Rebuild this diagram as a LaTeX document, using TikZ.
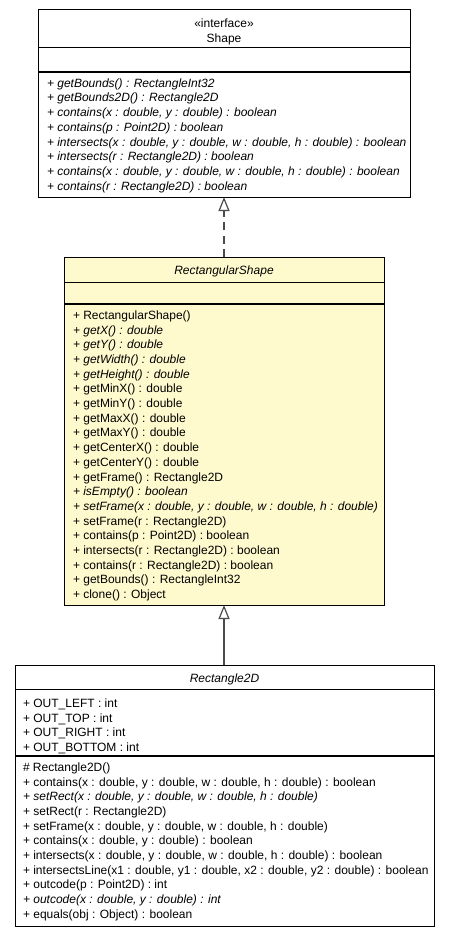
\documentclass[tikz,border=0pt]{standalone}
\usepackage{fontspec}
\setmainfont{Liberation Sans}
\usetikzlibrary{arrows.meta}
\definecolor{umlyellow}{RGB}{255,250,205}
\definecolor{conn}{RGB}{75,75,75}
\begin{document}
\begin{tikzpicture}[x=1pt,y=-1pt,
  box/.style={draw=black, line width=1pt, inner sep=0pt, outer sep=0pt},
  sep/.style={draw=black, line width=1pt},
  septhick/.style={draw=black, line width=1.8pt},
  txt/.style={inner sep=0pt, outer sep=0pt, anchor=base west, font=\fontsize{12}{14.7}\selectfont},
  ctxt/.style={inner sep=0pt, outer sep=0pt, anchor=base, font=\fontsize{12}{14.7}\selectfont},
  ital/.style={font=\fontsize{12}{14.7}\selectfont\itshape},
  upr/.style={},
  realize/.style={draw=conn, line width=1.6pt, dash pattern=on 8pt off 5.5pt,
    -{Triangle[open, length=14pt, width=11pt, line width=1.2pt, fill=white]}},
  inherit/.style={draw=conn, line width=1.6pt,
    -{Triangle[open, length=14pt, width=11pt, line width=1.2pt, fill=white]}}]
\useasboundingbox[fill=white] (0,0) rectangle (448,936);

% ---------------- Shape (interface) ----------------
\node[box, fill=white, minimum width=372pt, minimum height=187pt] (shapebox) at (224,103.5) {};
\draw[sep] (shapebox.west |- 0,48) -- (shapebox.east |- 0,48);
\draw[septhick] (shapebox.west |- 0,72) -- (shapebox.east |- 0,72);
\node[ctxt] (shapeStereo) at (224,27.3) {«interface»};
\node[ctxt] (shapeName) at (224,42.3) {Shape};
\foreach \st/\tx [count=\n from 0] in {
  ital/{+ getBounds() : RectangleInt32},
  ital/{+ getBounds2D() : Rectangle2D},
  ital/{+ contains(x : double, y : double) : boolean},
  ital/{+ contains(p : Point2D) : boolean},
  ital/{+ intersects(x : double, y : double, w : double, h : double) : boolean},
  ital/{+ intersects(r : Rectangle2D) : boolean},
  ital/{+ contains(x : double, y : double, w : double, h : double) : boolean},
  ital/{+ contains(r : Rectangle2D) : boolean}}
  \node[txt, \st] (shapeM\n) at (47, 87.3+14.7*\n) {\tx};

% ---------------- RectangularShape ----------------
\node[box, fill=umlyellow, minimum width=320pt, minimum height=348pt] (rsbox) at (224,431) {};
\draw[sep] (rsbox.west |- 0,282) -- (rsbox.east |- 0,282);
\draw[septhick] (rsbox.west |- 0,304) -- (rsbox.east |- 0,304);
\node[ctxt, ital] (rsName) at (224,274.3) {RectangularShape};
\foreach \st/\tx [count=\n from 0] in {
  upr/{+ RectangularShape()},
  ital/{+ getX() : double},
  ital/{+ getY() : double},
  ital/{+ getWidth() : double},
  ital/{+ getHeight() : double},
  upr/{+ getMinX() : double},
  upr/{+ getMinY() : double},
  upr/{+ getMaxX() : double},
  upr/{+ getMaxY() : double},
  upr/{+ getCenterX() : double},
  upr/{+ getCenterY() : double},
  upr/{+ getFrame() : Rectangle2D},
  ital/{+ isEmpty() : boolean},
  ital/{+ setFrame(x : double, y : double, w : double, h : double)},
  upr/{+ setFrame(r : Rectangle2D)},
  upr/{+ contains(p : Point2D) : boolean},
  upr/{+ intersects(r : Rectangle2D) : boolean},
  upr/{+ contains(r : Rectangle2D) : boolean},
  upr/{+ getBounds() : RectangleInt32},
  upr/{+ clone() : Object}}
  \node[txt, \st] (rsM\n) at (73, 319.3+14.7*\n) {\tx};

% ---------------- Rectangle2D ----------------
\node[box, fill=white, minimum width=419pt, minimum height=261pt] (r2dbox) at (224.5,795.5) {};
\draw[sep] (r2dbox.west |- 0,689) -- (r2dbox.east |- 0,689);
\draw[septhick] (r2dbox.west |- 0,756) -- (r2dbox.east |- 0,756);
\node[ctxt, ital] (r2dName) at (224.5,682.3) {Rectangle2D};
\foreach \tx [count=\n from 0] in {
  {+ OUT\_LEFT : int},
  {+ OUT\_TOP : int},
  {+ OUT\_RIGHT : int},
  {+ OUT\_BOTTOM : int}}
  \node[txt] (r2dA\n) at (23, 707.3+14.7*\n) {\tx};
\foreach \st/\tx [count=\n from 0] in {
  upr/{\# Rectangle2D()},
  upr/{+ contains(x : double, y : double, w : double, h : double) : boolean},
  ital/{+ setRect(x : double, y : double, w : double, h : double)},
  upr/{+ setRect(r : Rectangle2D)},
  upr/{+ setFrame(x : double, y : double, w : double, h : double)},
  upr/{+ contains(x : double, y : double) : boolean},
  upr/{+ intersects(x : double, y : double, w : double, h : double) : boolean},
  upr/{+ intersectsLine(x1 : double, y1 : double, x2 : double, y2 : double) : boolean},
  upr/{+ outcode(p : Point2D) : int},
  ital/{+ outcode(x : double, y : double) : int},
  upr/{+ equals(obj : Object) : boolean}}
  \node[txt, \st] (r2dM\n) at (23, 771.3+14.7*\n) {\tx};

% ---------------- connectors ----------------
\draw[realize] (rsbox.north) -- (shapebox.south);
\draw[inherit] (r2dbox.north -| rsbox.south) -- (rsbox.south);
\end{tikzpicture}
\end{document}
